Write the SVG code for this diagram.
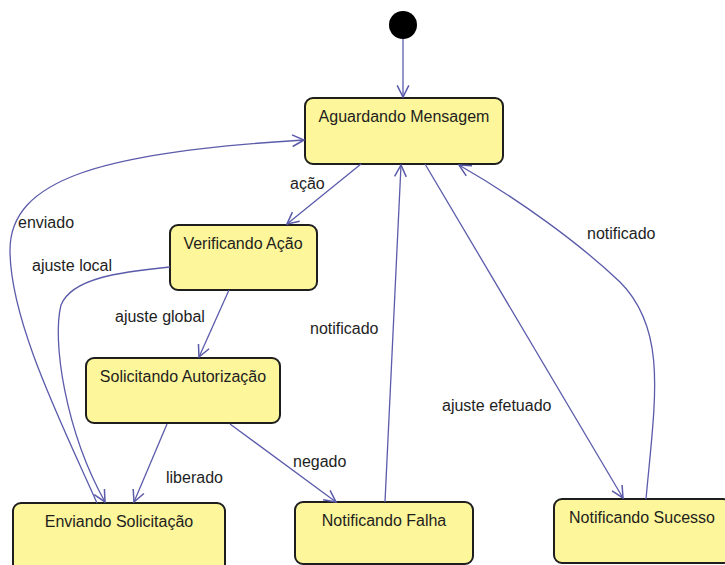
<svg xmlns="http://www.w3.org/2000/svg" width="725" height="565" viewBox="0 0 725 565">
  <style>
    .state rect { fill: #fdf69a; stroke: #1e1e1e; stroke-width: 2; }
    .state text { font-family: "Liberation Sans", Arial, sans-serif; font-size: 16px; fill: #1e1e1e; text-anchor: middle; }
    .edge { fill: none; stroke: #5b5bab; stroke-width: 1.3; marker-end: url(#open); }
    .label { font-family: "Liberation Sans", Arial, sans-serif; font-size: 16px; fill: #1e1e1e; }
  </style>
  <defs>
    <marker id="open" markerUnits="userSpaceOnUse" markerWidth="14" markerHeight="14" viewBox="0 0 12 12" refX="11" refY="6" orient="auto">
      <path d="M1,1 L11,6 L1,11" fill="none" stroke="#5b5bab" stroke-width="1.3"/>
    </marker>
  </defs>
  <rect width="725" height="565" fill="#ffffff"/>

  <!-- initial pseudo-state -->
  <g id="initial">
    <circle cx="403" cy="25" r="14" fill="#000"/>
  </g>

  <!-- states -->
  <g id="aguardando" class="state">
    <rect x="305" y="98" width="198" height="66" rx="8"/>
    <text x="404" y="122">Aguardando Mensagem</text>
  </g>
  <g id="verificando" class="state">
    <rect x="170" y="225" width="147" height="65" rx="8"/>
    <text x="243" y="249">Verificando Ação</text>
  </g>
  <g id="solicitando" class="state">
    <rect x="86" y="358" width="194" height="65" rx="8"/>
    <text x="183" y="382">Solicitando Autorização</text>
  </g>
  <g id="enviando" class="state">
    <rect x="13" y="503" width="212" height="70" rx="8"/>
    <text x="119" y="527">Enviando Solicitação</text>
  </g>
  <g id="falha" class="state">
    <rect x="295" y="502" width="178" height="62" rx="8"/>
    <text x="384" y="526">Notificando Falha</text>
  </g>
  <g id="sucesso" class="state">
    <rect x="554" y="499" width="177" height="64" rx="8"/>
    <text x="642" y="523">Notificando Sucesso</text>
  </g>

  <!-- transitions -->
  <g id="connectors">
    <path class="edge" d="M403,39 L403,97"/>
    <path class="edge" d="M361,164 L287,224"/>
    <path class="edge" d="M97,503 C60,420 10,320 10,250 C10,180 100,152 304,140"/>
    <path class="edge" d="M170,267 C120,272 72,278 61,305 C52,340 65,430 105,502"/>
    <path class="edge" d="M229,290 L199,357"/>
    <path class="edge" d="M167,424 L134,502"/>
    <path class="edge" d="M230,424 L336,502"/>
    <path class="edge" d="M385,502 L401,165"/>
    <path class="edge" d="M425,164 L623,498"/>
    <path class="edge" d="M646,499 C655,400 668,330 620,282 C580,244 520,200 459,165"/>
  </g>

  <!-- transition labels -->
  <g id="labels">
    <text class="label" x="290" y="189">ação</text>
    <text class="label" x="18" y="228">enviado</text>
    <text class="label" x="32" y="271">ajuste local</text>
    <text class="label" x="115" y="322">ajuste global</text>
    <text class="label" x="166" y="483">liberado</text>
    <text class="label" x="293" y="467">negado</text>
    <text class="label" x="310" y="334">notificado</text>
    <text class="label" x="442" y="411">ajuste efetuado</text>
    <text class="label" x="587" y="239">notificado</text>
  </g>
</svg>
